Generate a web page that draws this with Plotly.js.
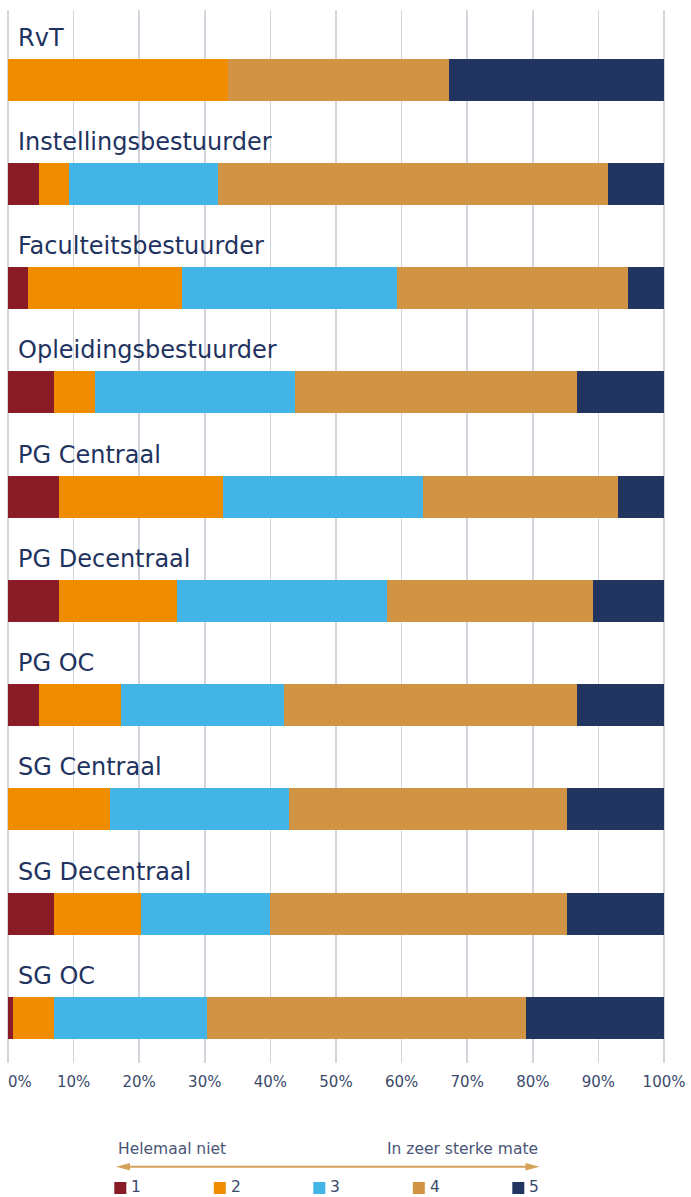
<!DOCTYPE html>
<html>
<head>
<meta charset="utf-8">
<script src="https://cdn.plot.ly/plotly-3.0.1.min.js"></script>
<style>
  html, body { margin: 0; padding: 0; background: #fff; }
  #chart { width: 691px; height: 1197px; }
</style>
</head>
<body>
<div id="chart"></div>
<script>
// stacked bars: share of answers 1..5 per group

const categories = [
    "RvT", "Instellingsbestuurder", "Faculteitsbestuurder", "Opleidingsbestuurder",
    "PG Centraal", "PG Decentraal", "PG OC", "SG Centraal", "SG Decentraal", "SG OC"
];

const score1 = [0.0, 4.7, 3.0, 7.0, 7.8, 7.8, 4.7, 0.0, 7.0, 0.8];
const score2 = [33.6, 4.6, 23.5, 6.3, 25.0, 17.9, 12.5, 15.6, 13.3, 6.2];
const score3 = [0.0, 22.7, 32.8, 30.4, 30.5, 32.1, 24.9, 27.3, 19.6, 23.4];
const score4 = [33.6, 59.4, 35.2, 43.0, 29.7, 31.3, 44.6, 42.3, 45.3, 48.5];
const score5 = [32.8, 8.6, 5.5, 13.3, 7.0, 10.9, 13.3, 14.8, 14.8, 21.1];

const seriesNames = ["1", "2", "3", "4", "5"];
const tickValues = [0, 10, 20, 30, 40, 50, 60, 70, 80, 90, 100];
const tickLabels = ["0%", "10%", "20%", "30%", "40%", "50%", "60%", "70%", "80%", "90%", "100%"];
const scaleLow = "Helemaal niet";
const scaleHigh = "In zeer sterke mate";

const colors = ["#8a1c27", "#f08c00", "#42b4e6", "#d19444", "#213560"];

/* -----------------------------
   Geometry helpers (pixels -> paper)
------------------------------*/
const W = 691, H = 1197;
const M = { l: 6, r: 25, t: 10, b: 134 };
const plotW = W - M.l - M.r;
const plotH = H - M.t - M.b;
const px = x => (x - M.l) / plotW;
const py = y => (H - M.b - y) / plotH;
const tickFont = { family: "DejaVu Sans", size: 15, color: "#3b4a6b" };

/* -----------------------------
   Traces
------------------------------*/
const allScores = [score1, score2, score3, score4, score5];
const traces = allScores.map((vals, i) => ({
    type: "bar",
    orientation: "h",
    name: seriesNames[i],
    y: categories,
    x: vals,
    marker: { color: colors[i], line: { width: 0 } },
    hovertemplate: "%{y}: %{x:.1f}%<extra>" + seriesNames[i] + "</extra>"
}));

/* -----------------------------
   Group labels above each bar
------------------------------*/
const annotations = categories.map(c => ({
    xref: "x", yref: "y",
    x: 0, y: c,
    xanchor: "left", yanchor: "middle",
    xshift: 8, yshift: 42,
    text: c,
    showarrow: false,
    font: { family: "DejaVu Sans", size: 24, color: "#1f3360" }
}));

// first tick label sits left-aligned on its gridline, so it is drawn apart
annotations.push({
    xref: "x", yref: "paper",
    x: tickValues[0], y: py(1082),
    xanchor: "left", yanchor: "middle",
    xshift: -2,
    text: tickLabels[0], showarrow: false,
    font: tickFont
});

// scale labels over the arrow
annotations.push({
    xref: "paper", yref: "paper",
    x: px(116), y: py(1149),
    xanchor: "left", yanchor: "middle",
    text: scaleLow, showarrow: false,
    font: { family: "DejaVu Sans", size: 15.5, color: "#4a5577" }
});
annotations.push({
    xref: "paper", yref: "paper",
    x: px(539.5), y: py(1149),
    xanchor: "right", yanchor: "middle",
    text: scaleHigh, showarrow: false,
    font: { family: "DejaVu Sans", size: 15.5, color: "#4a5577" }
});

/* -----------------------------
   Hand-made legend + arrow
------------------------------*/
const shapes = [];
const arrowY = 1166.7, arrowL = 116, arrowR = 539.5, tan = "#d6a15a";

shapes.push({
    type: "line", xref: "paper", yref: "paper",
    x0: px(arrowL + 8), x1: px(arrowR - 8), y0: py(arrowY), y1: py(arrowY),
    line: { color: tan, width: 2 }
});
shapes.push({
    type: "path", xref: "paper", yref: "paper",
    path: `M ${px(arrowL)} ${py(arrowY)} L ${px(arrowL + 14)} ${py(arrowY - 3.8)} L ${px(arrowL + 14)} ${py(arrowY + 3.8)} Z`,
    fillcolor: tan, line: { width: 0 }
});
shapes.push({
    type: "path", xref: "paper", yref: "paper",
    path: `M ${px(arrowR)} ${py(arrowY)} L ${px(arrowR - 14)} ${py(arrowY - 3.8)} L ${px(arrowR - 14)} ${py(arrowY + 3.8)} Z`,
    fillcolor: tan, line: { width: 0 }
});

seriesNames.forEach((n, i) => {
    const x0 = 114.3 + i * 99.5;
    shapes.push({
        type: "rect", xref: "paper", yref: "paper",
        x0: px(x0), x1: px(x0 + 12), y0: py(1182), y1: py(1194),
        fillcolor: colors[i], line: { width: 0 }
    });
    annotations.push({
        xref: "paper", yref: "paper",
        x: px(x0 + 16), y: py(1186.5),
        xanchor: "left", yanchor: "middle",
        borderpad: 0,
        text: n, showarrow: false,
        font: { family: "DejaVu Sans", size: 15.5, color: "#3b4a6b" }
    });
});

/* -----------------------------
   Layout
------------------------------*/
const layout = {
    width: W, height: H,
    margin: M,
    barmode: "stack",
    bargap: 0.597,
    showlegend: false,
    paper_bgcolor: "#fff",
    plot_bgcolor: "#fff",
    font: { family: "DejaVu Sans", color: "#3b4a6b" },
    xaxis: {
        range: [-0.3, 100.3],
        tickvals: tickValues,
        ticktext: tickLabels.map((t, i) => (i === 0 ? "" : t)),
        showgrid: true,
        gridcolor: "#d3d5dc",
        gridwidth: 1.5,
        zeroline: false,
        showline: false,
        ticks: "",
        ticklabelstandoff: 8,
        ticklabeloverflow: "allow",
        tickfont: tickFont,
        fixedrange: true
    },
    yaxis: {
        type: "category",
        range: [9.432, -0.668],
        showticklabels: false,
        showgrid: false,
        zeroline: false,
        ticks: "",
        fixedrange: true
    },
    annotations,
    shapes
};

Plotly.newPlot("chart", traces, layout, { displayModeBar: false, staticPlot: true });
</script>
</body>
</html>
